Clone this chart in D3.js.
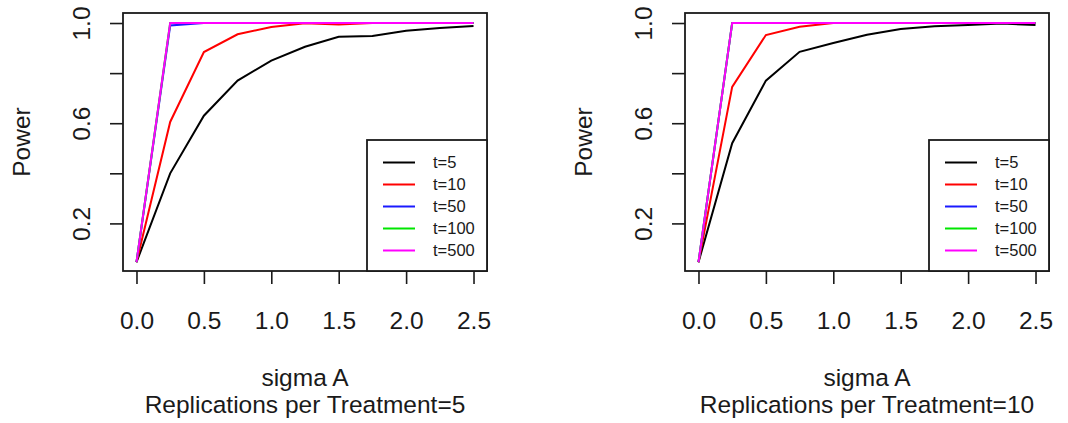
<!DOCTYPE html>
<html>
<head>
<meta charset="utf-8">
<script src="https://cdn.jsdelivr.net/npm/d3@7"></script>
<style>
  body { margin: 0; background: #fff; }
  svg { display: block; font-family: "Liberation Sans", Arial, sans-serif; }
</style>
</head>
<body>
<svg id="chart" width="1068" height="423"></svg>
<script>
// sigma A grid shared by every curve
var sigmaA = [0, 0.25, 0.5, 0.75, 1.0, 1.25, 1.5, 1.75, 2.0, 2.25, 2.5];

// power, replications per treatment = 5
var rep5_t5   = [0.045, 0.40, 0.63, 0.77, 0.85, 0.905, 0.945, 0.948, 0.969, 0.98, 0.988];
var rep5_t10  = [0.045, 0.605, 0.884, 0.955, 0.984, 0.999, 0.994, 1, 1, 1, 1];
var rep5_t50  = [0.045, 0.99, 1, 1, 1, 1, 1, 1, 1, 1, 1];
var rep5_t100 = [0.045, 1, 1, 1, 1, 1, 1, 1, 1, 1, 1];
var rep5_t500 = [0.045, 1, 1, 1, 1, 1, 1, 1, 1, 1, 1];

// replications per treatment = 10
var rep10_t5   = [0.045, 0.52, 0.77, 0.885, 0.92, 0.953, 0.976, 0.987, 0.992, 0.998, 0.992];
var rep10_t10  = [0.045, 0.745, 0.952, 0.985, 1, 1, 1, 1, 1, 1, 1];
var rep10_t50  = [0.045, 1, 1, 1, 1, 1, 1, 1, 1, 1, 1];
var rep10_t100 = [0.045, 1, 1, 1, 1, 1, 1, 1, 1, 1, 1];
var rep10_t500 = [0.045, 1, 1, 1, 1, 1, 1, 1, 1, 1, 1];

var seriesNames = ["t=5", "t=10", "t=50", "t=100", "t=500"];
var xTicks = [0, 0.5, 1.0, 1.5, 2.0, 2.5];
var yTicks = [0.2, 0.4, 0.6, 0.8, 1.0];
var yTickLabels = [0.2, 0.6, 1.0];   // R leaves out the ones that would overlap

var panels = [
  { sub: "Replications per Treatment=5",  series: [rep5_t5, rep5_t10, rep5_t50, rep5_t100, rep5_t500] },
  { sub: "Replications per Treatment=10", series: [rep10_t5, rep10_t10, rep10_t50, rep10_t100, rep10_t500] }
];

var colors = ["#000000", "#ff0000", "#1a1aff", "#00e600", "#ff00ff"];
var ink = "#1a1a1a";

var svg = d3.select("#chart");

// plot box of the left panel, right panel is shifted
var box = { left: 123, top: 13, width: 364, height: 258 };
var panelShift = 562;
var fs = 24.5;

panels.forEach(function(p, i) {
  var g = svg.append("g").attr("transform", "translate(" + (box.left + i * panelShift) + "," + box.top + ")");

  var x = d3.scaleLinear().domain([-0.1, 2.6]).range([0, box.width]);
  var y = d3.scaleLinear().domain([0.01, 1.04]).range([box.height, 0]);

  // curves
  var line = d3.line()
    .x(function(d, k) { return x(sigmaA[k]); })
    .y(function(d) { return y(d); });

  p.series.forEach(function(vals, s) {
    g.append("path")
      .datum(vals)
      .attr("fill", "none")
      .attr("stroke", colors[s])
      .attr("stroke-width", 2)
      .attr("d", line);
  });

  // x axis
  var xa = g.append("g")
    .attr("transform", "translate(0," + box.height + ")")
    .call(d3.axisBottom(x).tickValues(xTicks).tickSize(13).tickFormat(d3.format(".1f")));
  xa.select(".domain").remove();
  xa.selectAll("line").attr("stroke", ink).attr("stroke-width", 1.6);
  xa.selectAll("text")
    .attr("y", 58).attr("dy", 0)
    .attr("fill", ink)
    .style("font-size", fs + "px")
    .style("font-family", "inherit");

  // y axis
  var ya = g.append("g")
    .call(d3.axisLeft(y).tickValues(yTicks).tickSize(13)
      .tickFormat(function(d) { return yTickLabels.indexOf(d) >= 0 ? d3.format(".1f")(d) : ""; }));
  ya.select(".domain").remove();
  ya.selectAll("line").attr("stroke", ink).attr("stroke-width", 1.6);
  ya.selectAll("text")
    .attr("x", 0).attr("y", 0).attr("dy", 0)
    .attr("transform", "translate(-33,0) rotate(-90)")
    .attr("text-anchor", "middle")
    .attr("fill", ink)
    .style("font-size", fs + "px")
    .style("font-family", "inherit");

  // box
  g.append("rect")
    .attr("width", box.width).attr("height", box.height)
    .attr("fill", "none").attr("stroke", ink).attr("stroke-width", 1.8);

  // titles
  g.append("text")
    .attr("transform", "translate(-93," + box.height / 2 + ") rotate(-90)")
    .attr("text-anchor", "middle")
    .attr("fill", ink)
    .style("font-size", fs + "px")
    .text("Power");

  g.append("text")
    .attr("x", box.width / 2).attr("y", 373)
    .attr("text-anchor", "middle")
    .attr("fill", ink)
    .style("font-size", fs + "px")
    .text("sigma A");

  g.append("text")
    .attr("x", box.width / 2).attr("y", 400)
    .attr("text-anchor", "middle")
    .attr("fill", ink)
    .style("font-size", fs + "px")
    .text(p.sub);

  // legend, bottom right
  var lw = 120, lh = 131;
  var lg = g.append("g").attr("transform", "translate(" + (box.width - lw) + "," + (box.height - lh) + ")");
  lg.append("rect")
    .attr("width", lw).attr("height", lh)
    .attr("fill", "#fff").attr("stroke", ink).attr("stroke-width", 1.8);

  seriesNames.forEach(function(name, s) {
    var ry = 22.5 + s * 22;
    lg.append("line")
      .attr("x1", 16).attr("x2", 48).attr("y1", ry).attr("y2", ry)
      .attr("stroke", colors[s]).attr("stroke-width", 2);
    lg.append("text")
      .attr("x", 66).attr("y", ry)
      .attr("dy", "0.36em")
      .attr("fill", ink)
      .style("font-size", "16.5px")
      .text(name);
  });
});
</script>
</body>
</html>
